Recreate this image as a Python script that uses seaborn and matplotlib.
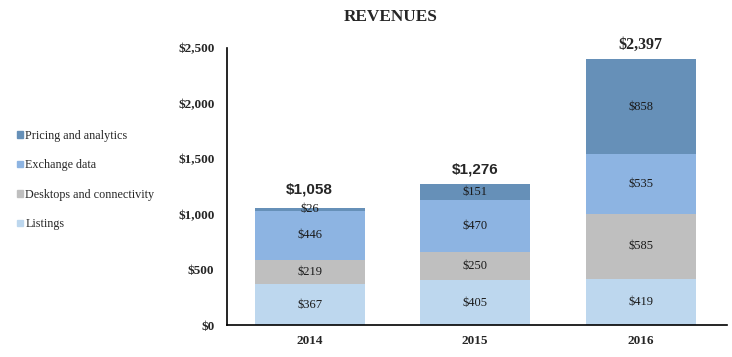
import numpy as np
import pandas as pd
import seaborn as sns
import matplotlib.pyplot as plt
from matplotlib.patches import Patch

years = ['2014', '2015', '2016']
segments = ['Listings', 'Desktops and connectivity', 'Exchange data', 'Pricing and analytics']
listings = [367, 405, 419]
desktops = [219, 250, 585]
exchange = [446, 470, 535]
pricing = [26, 151, 858]
totals = ['$1,058', '$1,276', '$2,397']
colors = ['#BDD7EE', '#BFBFBF', '#8DB4E2', '#6690B8']

sns.set_style('white')
plt.rcParams['font.family'] = ['Liberation Serif', 'DejaVu Serif']

values = [listings, desktops, exchange, pricing]
cum = np.cumsum(np.array(values), axis=0)

fig = plt.figure(figsize=(7.32, 3.57), dpi=100)
ax = fig.add_axes([0.310, 0.0896, 0.683, 0.776])

# stacked bars drawn from the top layer down
for i in range(len(segments) - 1, -1, -1):
    df = pd.DataFrame({'year': years, 'value': cum[i]})
    sns.barplot(data=df, x='year', y='value', color=colors[i], width=0.665,
                saturation=1, linewidth=0, edgecolor='none', ax=ax, zorder=2)

for i in range(len(segments)):
    for j in range(len(years)):
        ax.text(j, cum[i][j] - values[i][j] / 2, '$' + str(values[i][j]),
                ha='center', va='center', fontsize=9, color='#1a1a1a', zorder=5)

offsets = [8, 5, 5]
for j in range(len(years)):
    fam = ['Liberation Sans'] if j < 2 else ['Liberation Serif']
    ax.annotate(totals[j], (j, cum[-1][j]), xytext=(0, offsets[j]), textcoords='offset points',
                ha='center', va='bottom', fontsize=11 if j < 2 else 11.5,
                fontweight='bold', family=fam)

ax.set_ylim(0, 2500)
ax.set_xlim(-0.5, 2.52)
ax.set_yticks(range(0, 2501, 500))
ax.set_yticklabels(['${:,}'.format(v) for v in range(0, 2501, 500)],
                   fontsize=9.5, fontweight='bold')
ax.set_xticklabels(years, fontsize=9.5, fontweight='bold')
ax.tick_params(length=0, pad=9, axis='y')
ax.tick_params(length=0, pad=7, axis='x')
ax.set_xlabel('')
ax.set_ylabel('')
sns.despine(ax=ax)
for s in ['left', 'bottom']:
    ax.spines[s].set_color('black')
    ax.spines[s].set_linewidth(1.2)

handles = [Patch(color=colors[i], label=segments[i]) for i in range(len(segments) - 1, -1, -1)]
fig.legend(handles=handles, loc='upper left', bbox_to_anchor=(0.008, 0.667),
           frameon=False, fontsize=8.7, handlelength=0.5, handleheight=0.5,
           handletextpad=0.2, labelspacing=1.45)

fig.text(0.534, 0.953, 'REVENUES', ha='center', va='center', fontsize=12.4,
         fontweight='bold')

fig.savefig('out.png', dpi=100)
